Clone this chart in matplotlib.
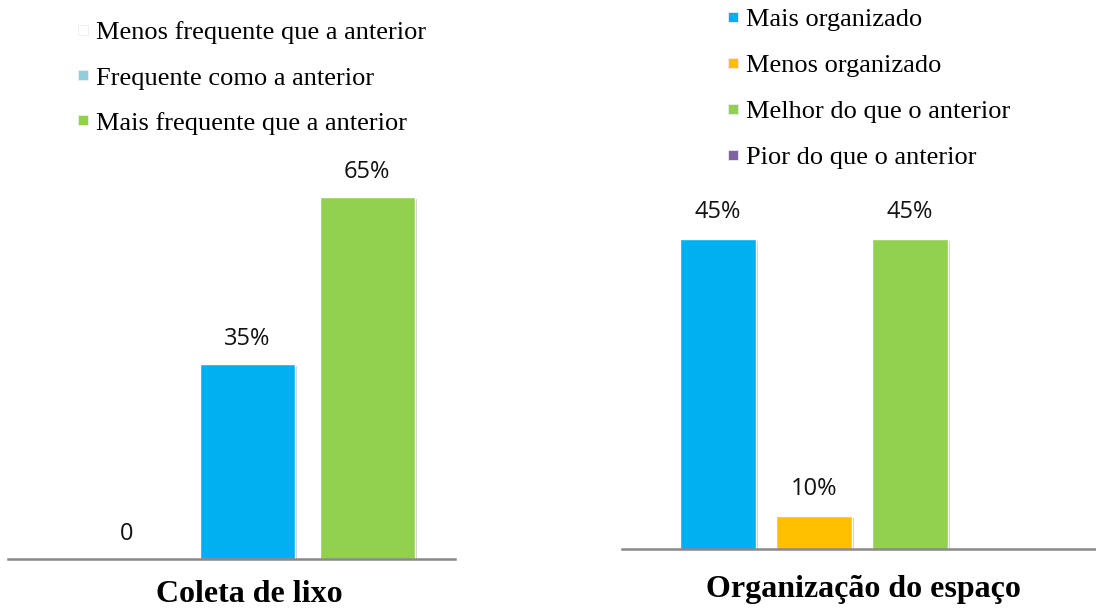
import matplotlib.pyplot as plt
import matplotlib.patheffects as pe
from matplotlib.lines import Line2D

# Coleta de lixo
lixo_labels = ['Menos frequente que a anterior', 'Frequente como a anterior',
               'Mais frequente que a anterior']
lixo_values = [0, 35, 65]
lixo_text = ['0', '35%', '65%']
lixo_bar_colors = ['#FFFFFF', '#00B0F0', '#92D050']
lixo_leg_colors = ['#FFFFFF', '#92CDDC', '#92D050']

# Organização do espaço
org_labels = ['Mais organizado', 'Menos organizado', 'Melhor do que o anterior',
              'Pior do que o anterior']
org_values = [45, 10, 45, 0]
org_text = ['45%', '10%', '45%', '']
org_colors = ['#00B0F0', '#FFC000', '#92D050', '#8064A2']

W, H = 1096, 608
fig = plt.figure(figsize=(W / 100, H / 100), dpi=100)

serif = 'Liberation Serif'
sans = 'Open Sans'
shadow = [pe.SimplePatchShadow(offset=(1.5, -1.5), shadow_rgbFace='#999999', alpha=0.5), pe.Normal()]


def px_axes(x0, x1, y_top, y_base):
    return fig.add_axes([x0 / W, (H - y_base) / H, (x1 - x0) / W, (y_base - y_top) / H])


def style(ax):
    for s in ['top', 'left', 'right']:
        ax.spines[s].set_visible(False)
    ax.spines['bottom'].set_color('#898989')
    ax.spines['bottom'].set_linewidth(1.8)
    ax.set_xticks([])
    ax.set_yticks([])


def legend(colors, labels, x, y, spacing):
    handles = [Line2D([], [], marker='s', linestyle='none', markersize=7,
                      markerfacecolor=c, markeredgecolor='#EEEEEE', markeredgewidth=0.6)
               for c in colors]
    fig.legend(handles, labels, loc='upper left', bbox_to_anchor=(x / W, 1 - y / H),
               frameon=False, prop={'family': serif, 'size': 19},
               handlelength=0.4, handletextpad=0.3, labelspacing=spacing,
               borderaxespad=0, borderpad=0)


# left panel
ax1 = px_axes(8, 455, 100, 559)
style(ax1)
x1 = range(len(lixo_values))
bars = ax1.bar(x1, lixo_values, width=0.79, color=lixo_bar_colors,
               edgecolor='white', linewidth=1)
for b in bars:
    b.set_path_effects(shadow)
ax1.set_xlim(-0.99, 2.73)
ax1.set_ylim(0, 459 / 5.57)
for xi, v, t in zip(x1, lixo_values, lixo_text):
    ax1.annotate(t, (xi, v), xytext=(0, 18), textcoords='offset points',
                 ha='center', va='center', fontsize=17, family=sans, color='#111111')
fig.text(249 / W, 1 - 595 / H, 'Coleta de lixo', ha='center', va='center',
         family=serif, fontsize=23, fontweight='bold')
legend(lixo_leg_colors, lixo_labels, 78, 21, 0.82)

# right panel
ax2 = px_axes(622, 1096, 100, 549)
style(ax2)
x2 = range(len(org_values))
bars = ax2.bar(x2, org_values, width=0.79, color=org_colors,
               edgecolor='white', linewidth=1)
for b in bars:
    b.set_path_effects(shadow)
ax2.set_xlim(-1.0, 3.94)
ymin = 5.83
ax2.set_ylim(ymin, ymin + 449 / 7.914)
for xi, v, t in zip(x2, org_values, org_text):
    ax2.annotate(t, (xi, v), xytext=(0, 19.5), textcoords='offset points',
                 ha='center', va='center', fontsize=17, family=sans, color='#111111')
fig.text(863 / W, 1 - 589 / H, 'Organização do espaço', ha='center', va='center',
         family=serif, fontsize=23, fontweight='bold')
legend(org_colors, org_labels, 728, 8, 0.85)

fig.savefig('out.png', dpi=100)
